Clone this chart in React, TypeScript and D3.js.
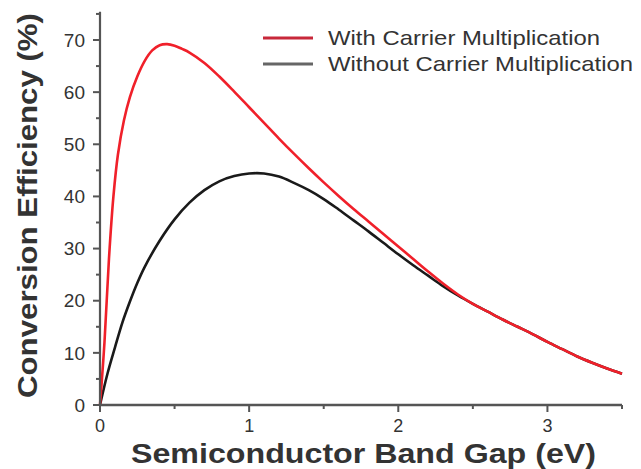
import React from "react";
import * as d3 from "d3";

const withCM: [number, number][] = [
  [0, 0], [0.03, 12], [0.06, 28], [0.09, 40], [0.12, 48], [0.16, 54.5], [0.2, 59],
  [0.25, 63], [0.3, 66], [0.35, 68], [0.4, 69], [0.45, 69.2], [0.5, 68.9],
  [0.55, 68.3], [0.6, 67.6], [0.7, 65.6], [0.8, 63.0], [0.9, 60.1], [1.0, 57.1],
  [1.1, 54.1], [1.2, 51.1], [1.3, 48.2], [1.4, 45.4], [1.5, 42.7], [1.6, 40.1],
  [1.7, 37.6], [1.8, 35.2], [1.9, 32.8], [2.0, 30.4], [2.1, 28.0], [2.2, 25.6],
  [2.3, 23.3], [2.4, 21.2], [2.5, 19.4], [2.6, 17.9], [2.7, 16.4], [2.8, 15.0],
  [2.9, 13.6], [3.0, 12.1], [3.1, 10.7], [3.2, 9.3], [3.3, 8.1], [3.4, 7.0], [3.5, 6.0],
];

const withoutCM: [number, number][] = [
  [0, 0], [0.05, 6], [0.1, 11], [0.15, 15.8], [0.2, 19.8], [0.25, 23.4], [0.3, 26.5],
  [0.4, 31.5], [0.5, 35.6], [0.6, 38.8], [0.7, 41.2], [0.8, 42.9], [0.9, 43.9],
  [1.0, 44.4], [1.1, 44.4], [1.2, 43.8], [1.3, 42.6], [1.4, 41.2], [1.5, 39.5],
  [1.6, 37.5], [1.7, 35.4], [1.8, 33.3], [1.9, 31.1], [2.0, 28.9], [2.1, 26.8],
  [2.2, 24.8], [2.3, 22.8], [2.4, 21.0], [2.5, 19.4], [2.6, 17.9], [2.7, 16.4],
  [2.8, 15.0], [2.9, 13.6], [3.0, 12.1], [3.1, 10.7], [3.2, 9.3], [3.3, 8.1],
  [3.4, 7.0], [3.5, 6.0],
];

const xMajorTicks = [0, 1, 2, 3];
const xMinorTicks = [0.5, 1.5, 2.5, 3.5];
const yMajorTicks = [0, 10, 20, 30, 40, 50, 60, 70];
const yMinorTicks = [5, 15, 25, 35, 45, 55, 65, 75];
const seriesNames = ["With Carrier Multiplication", "Without Carrier Multiplication"];
const xTitle = "Semiconductor Band Gap (eV)";
const yTitle = "Conversion Efficiency (%)";

export default function App() {
  const x = d3.scaleLinear().domain([0, 3.5]).range([100, 622]);
  const y = d3.scaleLinear().domain([0, 70]).range([405, 40]);
  const line = d3
    .line<[number, number]>()
    .x((d) => x(d[0]))
    .y((d) => y(d[1]))
    .curve(d3.curveCatmullRom.alpha(0.5));
  const axisColor = "#555";
  const textColor = "#333";
  const font = "'Liberation Sans', Arial, sans-serif";

  return (
    <svg
      width={641}
      height={469}
      style={{ position: "absolute", left: 0, top: 0, background: "#fff" }}
      fontFamily={font}
    >
      <rect x={0} y={0} width={641} height={469} fill="#fff" />
      {/* curves */}
      <path d={line(withoutCM) || ""} fill="none" stroke="#1a1a1a" strokeWidth={2.6} />
      <path d={line(withCM) || ""} fill="none" stroke="#f0202a" strokeWidth={2.6} />

      {/* y axis */}
      <line x1={x(0)} x2={x(0)} y1={y(0)} y2={y(75.4)} stroke={axisColor} strokeWidth={2.2} />
      {yMajorTicks.map((t) => (
        <g key={"ym" + t}>
          <line x1={x(0) - 7} x2={x(0)} y1={y(t)} y2={y(t)} stroke={axisColor} strokeWidth={2} />
          <text x={85} y={y(t)} dy="0.35em" textAnchor="end" fontSize={19} fill={textColor}>
            {t}
          </text>
        </g>
      ))}
      {yMinorTicks.map((t) => (
        <line key={"yn" + t} x1={x(0) - 4} x2={x(0)} y1={y(t)} y2={y(t)} stroke={axisColor} strokeWidth={2} />
      ))}

      {/* x axis */}
      <line x1={x(0)} x2={x(3.5)} y1={y(0)} y2={y(0)} stroke={axisColor} strokeWidth={2.6} />
      {xMajorTicks.map((t) => (
        <g key={"xm" + t}>
          <line x1={x(t)} x2={x(t)} y1={y(0)} y2={y(0) + 7} stroke={axisColor} strokeWidth={2} />
          <text x={x(t)} y={432} textAnchor="middle" fontSize={18} fill={textColor}>
            {t}
          </text>
        </g>
      ))}
      {xMinorTicks.map((t) => (
        <line key={"xn" + t} x1={x(t)} x2={x(t)} y1={y(0)} y2={y(0) + 4} stroke={axisColor} strokeWidth={2} />
      ))}

      {/* axis titles */}
      <text
        x={131}
        y={463}
        fontSize={27}
        fontWeight="bold"
        fill={textColor}
        textLength={465}
        lengthAdjust="spacingAndGlyphs"
      >
        {xTitle}
      </text>
      <text
        transform={`translate(37, 398) rotate(-90)`}
        x={0}
        y={0}
        fontSize={28}
        fontWeight="bold"
        fill={textColor}
        textLength={385}
        lengthAdjust="spacingAndGlyphs"
      >
        {yTitle}
      </text>

      {/* legend */}
      <line x1={263} x2={313} y1={38} y2={38} stroke="#c8283a" strokeWidth={3} />
      <text x={328} y={45} fontSize={21} fill={textColor} textLength={272} lengthAdjust="spacingAndGlyphs">
        {seriesNames[0]}
      </text>
      <line x1={263} x2={313} y1={64} y2={64} stroke="#666" strokeWidth={3} />
      <text x={328} y={71} fontSize={21} fill={textColor} textLength={305} lengthAdjust="spacingAndGlyphs">
        {seriesNames[1]}
      </text>
    </svg>
  );
}
